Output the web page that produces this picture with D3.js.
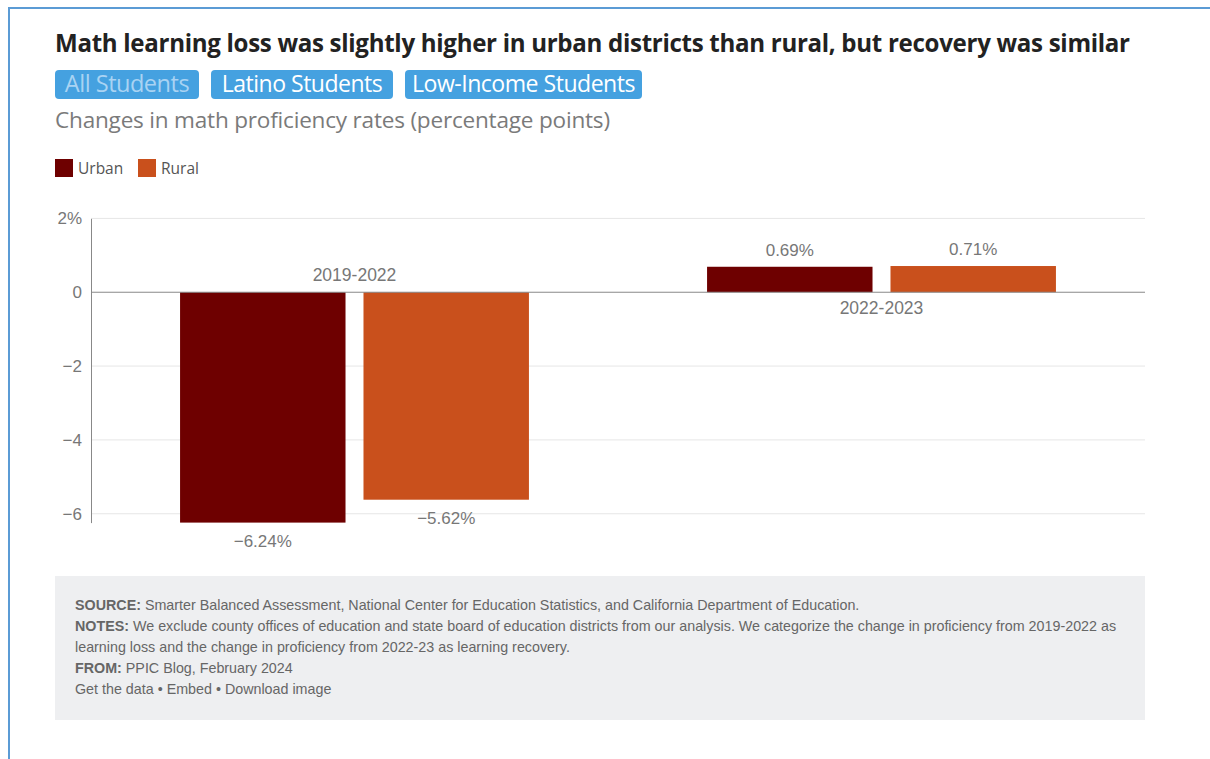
<!DOCTYPE html>
<html>
<head>
<meta charset="utf-8">
<script src="https://cdn.jsdelivr.net/npm/d3@7"></script>
<style>
  html, body { margin: 0; padding: 0; background: #fff; }
  svg { display: block; }
  .tick text { font-family: "Liberation Sans", Arial, sans-serif; }
</style>
</head>
<body>
<svg id="chart" width="1210" height="759"></svg>
<script>
// chart data
const periods = ['2019-2022', '2022-2023']
const areas = ['Urban', 'Rural']
const urbanValues = [-6.24, 0.69]
const ruralValues = [-5.62, 0.71]
const areaColors = ['#6e0000', '#c9501c']
const yTicks = [2, 0, -2, -4, -6]
const buttons = ['All Students', 'Latino Students', 'Low-Income Students']

const title = 'Math learning loss was slightly higher in urban districts than rural, but recovery was similar'
const subtitle = 'Changes in math proficiency rates (percentage points)'
const notes = [
  [['SOURCE: ', 'Smarter Balanced Assessment, National Center for Education Statistics, and California Department of Education.']],
  [['NOTES: ', 'We exclude county offices of education and state board of education districts from our analysis. We categorize the change in proficiency from 2019-2022 as']],
  [['', 'learning loss and the change in proficiency from 2022-23 as learning recovery.']],
  [['FROM: ', 'PPIC Blog, February 2024']],
  [['', 'Get the data \u2022 Embed \u2022 Download image']]
]

const data = periods.map((p, i) => ({
  period: p,
  values: [
    { area: 'Urban', value: urbanValues[i] },
    { area: 'Rural', value: ruralValues[i] }
  ]
}))

const svg = d3.select('#chart')
const headFont = '"Open Sans", Lato, sans-serif'
const labelFont = '"Liberation Sans", Arial, sans-serif'

// squeeze or stretch a text to the width seen in the reference
function fitWidth (sel, width) {
  sel.each(function (d, i) {
    const w = typeof width === 'function' ? width(d, i) : width
    const t = d3.select(this)
    const natural = this.getComputedTextLength()
    const size = parseFloat(t.style('font-size'))
    t.style('font-size', (size * w / natural) + 'px')
  })
}

// page frame
svg.append('path')
  .attr('d', 'M9,759 V8 H1210')
  .attr('fill', 'none')
  .attr('stroke', '#5b9bd5')
  .attr('stroke-width', 2)

// title
svg.append('text')
  .attr('x', 55).attr('y', 52)
  .style('font-family', headFont)
  .style('font-weight', 700)
  .style('font-size', '21px')
  .style('letter-spacing', '-0.3px')
  .style('fill', '#222')
  .text(title)
  .call(fitWidth, 1071)

// buttons
const btnX = [55, 211, 405]
const btnW = [144, 182, 237]
const btnTextW = [123, 159, 221]
const btn = svg.selectAll('g.btn')
  .data(buttons)
  .join('g')
  .attr('class', 'btn')
  .attr('transform', (d, i) => `translate(${btnX[i]},70)`)
btn.append('rect')
  .attr('width', (d, i) => btnW[i])
  .attr('height', 29)
  .attr('rx', 4)
  .attr('fill', '#45a1e0')
btn.append('text')
  .attr('x', (d, i) => btnW[i] / 2)
  .attr('y', 21.5)
  .attr('text-anchor', 'middle')
  .style('font-family', headFont)
  .style('font-size', '19px')
  .style('letter-spacing', '-0.5px')
  .style('fill', (d, i) => i === 0 ? '#a9d3f3' : '#fff')
  .text(d => d)
  .call(fitWidth, (d, i) => btnTextW[i])

// subtitle
svg.append('text')
  .attr('x', 55).attr('y', 128)
  .style('font-family', headFont)
  .style('font-size', '20px')
  .style('letter-spacing', '-0.2px')
  .style('fill', '#7a7a7a')
  .text(subtitle)
  .call(fitWidth, 554)

// legend
const legend = svg.selectAll('g.legend')
  .data(areas)
  .join('g')
  .attr('class', 'legend')
  .attr('transform', (d, i) => `translate(${55 + i * 83},159)`)
legend.append('rect')
  .attr('width', 18).attr('height', 18)
  .attr('fill', (d, i) => areaColors[i])
legend.append('text')
  .attr('x', 23).attr('y', 15)
  .style('font-family', headFont)
  .style('font-size', '15.5px')
  .style('fill', '#555')
  .text(d => d)

// scales
const left = 91
const right = 1145
const y = d3.scaleLinear().domain([-6.24, 2]).range([522.6, 218.4])
const x0 = d3.scaleBand().domain(periods).range([left, right])
  .paddingInner(0.338).paddingOuter(0.169)
const x1 = d3.scaleBand().domain(areas).range([0, x0.bandwidth()])
  .paddingInner(0.098)
const color = d3.scaleOrdinal().domain(areas).range(areaColors)

// gridlines
svg.append('g')
  .selectAll('line')
  .data(yTicks.filter(d => d !== 0))
  .join('line')
  .attr('x1', left).attr('x2', right)
  .attr('y1', d => y(d)).attr('y2', d => y(d))
  .attr('stroke', '#e6e6e6')

// y axis
const fmt = d => d === 2 ? '2%' : d === 0 ? '0' : '\u2212' + Math.abs(d)
const yAxis = svg.append('g')
  .attr('transform', `translate(${left},0)`)
  .call(d3.axisLeft(y).tickValues(yTicks).tickFormat(fmt).tickSize(0).tickPadding(9))
yAxis.select('.domain').attr('stroke', '#888')
yAxis.selectAll('.tick text')
  .style('font-size', '17px')
  .style('fill', '#777')

// bars
const groups = svg.selectAll('g.group')
  .data(data)
  .join('g')
  .attr('class', 'group')
  .attr('transform', d => `translate(${x0(d.period)},0)`)

groups.selectAll('rect')
  .data(d => d.values)
  .join('rect')
  .attr('x', d => x1(d.area))
  .attr('width', x1.bandwidth())
  .attr('y', d => y(Math.max(0, d.value)))
  .attr('height', d => Math.abs(y(d.value) - y(0)))
  .attr('fill', d => color(d.area))

// value labels
groups.selectAll('text.val')
  .data(d => d.values)
  .join('text')
  .attr('class', 'val')
  .attr('x', d => x1(d.area) + x1.bandwidth() / 2)
  .attr('y', d => d.value < 0 ? y(d.value) + 24 : y(d.value) - 11)
  .attr('text-anchor', 'middle')
  .style('font-family', labelFont)
  .style('font-size', '17px')
  .style('fill', '#777')
  .text(d => (d.value < 0 ? '\u2212' : '') + Math.abs(d.value).toFixed(2) + '%')

// category labels sit on the opposite side of the zero line
groups.append('text')
  .attr('x', x0.bandwidth() / 2)
  .attr('y', d => d.values[0].value < 0 ? y(0) - 11 : y(0) + 22)
  .attr('text-anchor', 'middle')
  .style('font-family', labelFont)
  .style('font-size', '17.5px')
  .style('fill', '#777')
  .text(d => d.period)

// zero line
svg.append('line')
  .attr('x1', left).attr('x2', right)
  .attr('y1', y(0)).attr('y2', y(0))
  .attr('stroke', '#888')

// footer notes
svg.append('rect')
  .attr('x', 55).attr('y', 576)
  .attr('width', 1090).attr('height', 144)
  .attr('fill', '#eeeff1')

const noteText = svg.append('g')
  .selectAll('text')
  .data(notes)
  .join('text')
  .attr('x', 75)
  .attr('y', (d, i) => 610 + i * 21)
  .style('font-family', labelFont)
  .style('font-size', '14.3px')
  .style('fill', '#666')
noteText.selectAll('tspan')
  .data(d => d[0])
  .join('tspan')
  .style('font-weight', (d, i) => i === 0 ? 700 : 400)
  .text(d => d)
</script>
</body>
</html>
